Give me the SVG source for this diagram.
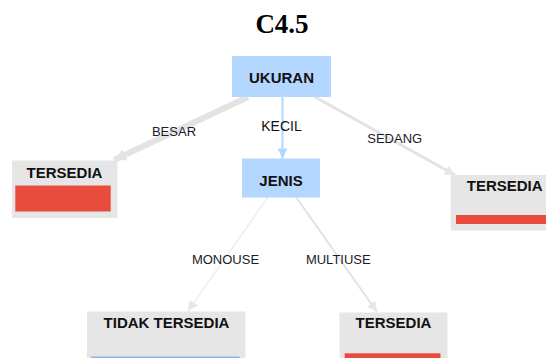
<svg xmlns="http://www.w3.org/2000/svg" width="546" height="358" viewBox="0 0 546 358">
<style>
.title{font-family:"Liberation Serif",serif;font-weight:bold;font-size:27px;fill:#000;text-anchor:middle}
.nt{font-family:"Liberation Sans",Arial,sans-serif;font-weight:bold;font-size:15px;fill:#111;text-anchor:middle}
.el{font-family:"Liberation Sans",Arial,sans-serif;font-size:13px;fill:#1a1a2a;text-anchor:middle}
.elb{font-family:"Liberation Sans",Arial,sans-serif;font-size:14px;fill:#111;text-anchor:middle}
.blue{fill:#b3d7ff}
.gray{fill:#e6e6e6}
.red{fill:#e84c3d}
.edge{fill:none;stroke:#e3e3e3}
</style>
<defs>
<marker id="ag" viewBox="0 0 10 10" refX="10" refY="5" markerUnits="userSpaceOnUse" markerWidth="14" markerHeight="12" orient="auto"><path d="M0,0 L10,5 L0,10 z" fill="#e3e3e3"/></marker>
<marker id="ag2" viewBox="0 0 10 10" refX="10" refY="5" markerUnits="userSpaceOnUse" markerWidth="12" markerHeight="10" orient="auto"><path d="M0,0 L10,5 L0,10 z" fill="#e6e6e6"/></marker>
<marker id="ab" viewBox="0 0 10 10" refX="10" refY="5" markerUnits="userSpaceOnUse" markerWidth="12" markerHeight="10" orient="auto"><path d="M0,0 L10,5 L0,10 z" fill="#b3d7ff"/></marker>
</defs>
<text class="title" x="282" y="33">C4.5</text>
<g id="connectors">
<path class="edge" d="M248,97 L114,160" stroke-width="6" marker-end="url(#ag)"/>
<path d="M282.5,97 L282.5,158.5" fill="none" stroke="#b3d7ff" stroke-width="2" marker-end="url(#ab)"/>
<path class="edge" d="M315,97 L455,175" stroke-width="3" marker-end="url(#ag2)"/>
<path d="M268,197 L188,311" fill="none" stroke="#eeeeee" stroke-width="1.5" marker-end="url(#ag2)"/>
<path class="edge" d="M296,197 L377,312" stroke-width="2" marker-end="url(#ag2)"/>
<text class="el" x="174" y="135.5">BESAR</text>
<text class="elb" x="281.5" y="131">KECIL</text>
<text class="el" x="394.7" y="143">SEDANG</text>
<text class="el" x="225.5" y="264">MONOUSE</text>
<text class="el" x="338.3" y="264">MULTIUSE</text>
</g>
<g id="ukuran">
<rect class="blue" x="232" y="56" width="99" height="41"/>
<text class="nt" x="281.5" y="82.5">UKURAN</text>
</g>
<g id="jenis">
<rect class="blue" x="242" y="158.5" width="78" height="39"/>
<text class="nt" x="281" y="186">JENIS</text>
</g>
<g id="besar-tersedia">
<rect class="gray" x="12" y="160.5" width="105.5" height="57.5"/>
<rect class="red" x="15.3" y="185.5" width="95.4" height="26"/>
<text class="nt" x="64.5" y="178">TERSEDIA</text>
</g>
<g id="sedang-tersedia">
<rect class="gray" x="450.7" y="175" width="105" height="55.7"/>
<rect class="red" x="456" y="215" width="94" height="9"/>
<text class="nt" x="504.7" y="190.7">TERSEDIA</text>
</g>
<g id="monouse-tidak-tersedia">
<rect class="gray" x="87" y="311.5" width="158.5" height="60"/>
<rect x="91.2" y="356.5" width="148.4" height="10" fill="#8fb3e6"/>
<text class="nt" x="166.5" y="327.7">TIDAK TERSEDIA</text>
</g>
<g id="multiuse-tersedia">
<rect class="gray" x="339.5" y="312.5" width="108" height="60"/>
<rect class="red" x="344.7" y="353.3" width="95.8" height="20"/>
<text class="nt" x="393.5" y="328.3">TERSEDIA</text>
</g>
</svg>
